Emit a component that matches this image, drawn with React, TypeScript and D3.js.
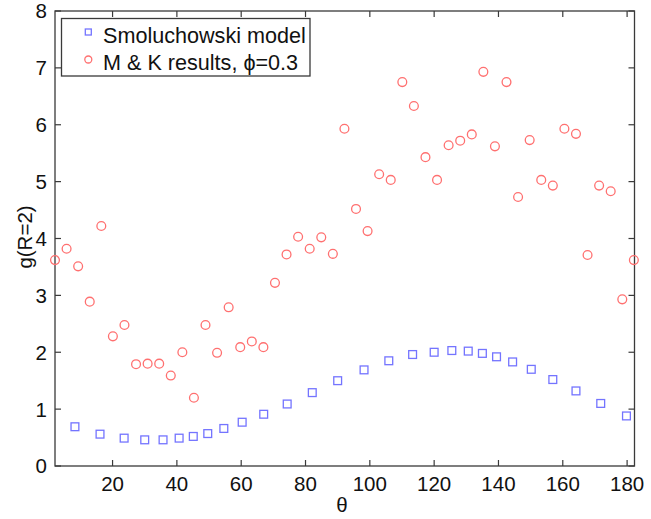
import React, { useEffect, useRef } from 'react'
import * as d3 from 'd3'

// Smoluchowski model (blue squares)
const smolTheta = [8.3, 16.1, 23.6, 30.0, 35.7, 40.7, 45.1, 49.6, 54.6, 60.3, 67.0, 74.3, 82.1, 90.0,
    98.2, 105.9, 113.3, 120.0, 125.5, 130.6, 135.0, 139.4, 144.4, 150.2, 156.9, 164.1, 171.8, 179.8]
const smolG = [0.69, 0.56, 0.49, 0.46, 0.46, 0.49, 0.52, 0.57, 0.66, 0.77, 0.91, 1.09, 1.29, 1.50,
    1.69, 1.85, 1.96, 2.00, 2.03, 2.02, 1.98, 1.92, 1.83, 1.70, 1.52, 1.32, 1.10, 0.88]

// M & K results (red circles)
const mkTheta = [2.1, 5.7, 9.3, 12.9, 16.5, 20.1, 23.7, 27.3, 30.9, 34.5, 38.1, 41.7, 45.3, 48.9, 52.5,
    56.1, 59.7, 63.3, 66.9, 70.5, 74.1, 77.7, 81.3, 84.9, 88.5, 92.1, 95.7, 99.3, 102.9, 106.5, 110.1,
    113.7, 117.3, 120.9, 124.5, 128.1, 131.7, 135.3, 138.9, 142.5, 146.1, 149.7, 153.3, 156.9, 160.5,
    164.1, 167.7, 171.3, 174.9, 178.5, 182.1]
const mkG = [3.62, 3.82, 3.51, 2.89, 4.22, 2.28, 2.48, 1.79, 1.80, 1.80, 1.59, 2.0, 1.2, 2.48, 1.99,
    2.79, 2.09, 2.19, 2.09, 3.22, 3.72, 4.03, 3.82, 4.02, 3.73, 5.93, 4.52, 4.13, 5.13, 5.03, 6.75,
    6.33, 5.43, 5.03, 5.64, 5.72, 5.83, 6.93, 5.62, 6.75, 4.73, 5.73, 5.03, 4.93, 5.93, 5.84, 3.71,
    4.93, 4.83, 2.93, 3.62]

const xTicks = [20, 40, 60, 80, 100, 120, 140, 160, 180]
const yTicks = [0, 1, 2, 3, 4, 5, 6, 7, 8]
const legendLabels = ['Smoluchowski model', 'M & K results, \u03d5=0.3']

const W = 651
const H = 519
const margin = { top: 11, right: 16.5, bottom: 53, left: 55 }
const blue = '#7474ff'
const red = '#ff7070'
const axisColor = '#3a3a3a'
const font = '"Liberation Sans", Arial, Helvetica, sans-serif'

function App() {
    const ref = useRef<SVGSVGElement>(null)

    useEffect(() => {
        const svg = d3.select(ref.current)
        svg.selectAll('*').remove()

        const innerW = W - margin.left - margin.right
        const innerH = H - margin.top - margin.bottom
        const x = d3.scaleLinear().domain([2.1, 182.3]).range([0, innerW])
        const y = d3.scaleLinear().domain([0, 8]).range([innerH, 0])

        const g = svg.append('g').attr('transform', `translate(${margin.left},${margin.top})`)

        // box
        g.append('rect')
            .attr('width', innerW).attr('height', innerH)
            .attr('fill', 'none').attr('stroke', axisColor).attr('stroke-width', 1.3)

        const tickLen = 6
        // inside ticks on all four sides
        xTicks.forEach(t => {
            g.append('line').attr('x1', x(t)).attr('x2', x(t)).attr('y1', innerH).attr('y2', innerH - tickLen)
                .attr('stroke', axisColor).attr('stroke-width', 1.2)
            g.append('line').attr('x1', x(t)).attr('x2', x(t)).attr('y1', 0).attr('y2', tickLen)
                .attr('stroke', axisColor).attr('stroke-width', 1.2)
            g.append('text').attr('x', x(t)).attr('y', innerH + 24.5)
                .attr('text-anchor', 'middle').attr('font-family', font).attr('font-size', 20.5)
                .attr('fill', '#111').text(t)
        })
        yTicks.forEach(t => {
            g.append('line').attr('x1', 0).attr('x2', tickLen).attr('y1', y(t)).attr('y2', y(t))
                .attr('stroke', axisColor).attr('stroke-width', 1.2)
            g.append('line').attr('x1', innerW).attr('x2', innerW - tickLen).attr('y1', y(t)).attr('y2', y(t))
                .attr('stroke', axisColor).attr('stroke-width', 1.2)
            g.append('text').attr('x', -8).attr('y', y(t)).attr('dy', '0.36em')
                .attr('text-anchor', 'end').attr('font-family', font).attr('font-size', 20.5)
                .attr('fill', '#111').text(t)
        })

        // axis labels
        svg.append('text').attr('x', 342).attr('y', 512)
            .attr('text-anchor', 'middle').attr('font-family', font).attr('font-size', 20.5)
            .attr('fill', '#111').text('\u03b8')
        svg.append('text').attr('transform', 'translate(32,237) rotate(-90)')
            .attr('text-anchor', 'middle').attr('font-family', font).attr('font-size', 20.5)
            .attr('fill', '#111').text('g(R=2)')

        // red circles
        g.selectAll('.mk').data(mkTheta.map((t, i) => [t, mkG[i]]))
            .join('circle').attr('class', 'mk')
            .attr('cx', d => x(d[0])).attr('cy', d => y(d[1])).attr('r', 4.4)
            .attr('fill', 'none').attr('stroke', red).attr('stroke-width', 1.3)

        // blue squares
        const s = 7.8
        g.selectAll('.smol').data(smolTheta.map((t, i) => [t, smolG[i]]))
            .join('rect').attr('class', 'smol')
            .attr('x', d => x(d[0]) - s / 2).attr('y', d => y(d[1]) - s / 2)
            .attr('width', s).attr('height', s)
            .attr('fill', 'none').attr('stroke', blue).attr('stroke-width', 1.3)

        // legend
        const lg = svg.append('g')
        lg.append('rect').attr('x', 61.5).attr('y', 18.5).attr('width', 248.5).attr('height', 57.5)
            .attr('fill', '#fff').attr('stroke', axisColor).attr('stroke-width', 1.3)
        lg.append('rect').attr('x', 88.3 - 3).attr('y', 32 - 3).attr('width', 6).attr('height', 6)
            .attr('fill', 'none').attr('stroke', blue).attr('stroke-width', 1.3)
        lg.append('circle').attr('cx', 88.3).attr('cy', 59.5).attr('r', 3.5)
            .attr('fill', 'none').attr('stroke', red).attr('stroke-width', 1.3)
        legendLabels.forEach((l, i) => {
            lg.append('text').attr('x', 103).attr('y', 42.5 + i * 27.5)
                .attr('font-family', font).attr('font-size', 21.6).attr('fill', '#111').text(l)
        })
    }, [])

    return (
        <div style={{ position: 'absolute', left: 0, top: 0 }}>
            <svg ref={ref} width={W} height={H} style={{ display: 'block', background: '#fff' }} />
        </div>
    )
}

export default App
